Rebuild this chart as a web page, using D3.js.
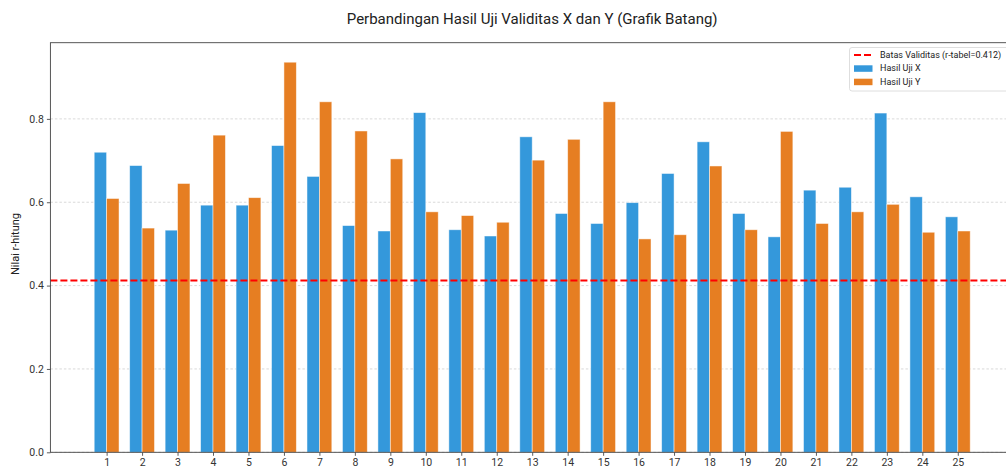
<!DOCTYPE html>
<html>
<head>
<meta charset="utf-8">
<script src="https://cdn.jsdelivr.net/npm/d3@7"></script>
<style>
  html, body { margin: 0; padding: 0; background: #fff; overflow: hidden; }
  svg { display: block; font-family: Roboto, "Open Sans", sans-serif; }
</style>
</head>
<body>
<svg id="chart" width="1006" height="468"></svg>
<script>
const categories = ["1","2","3","4","5","6","7","8","9","10","11","12","13","14","15","16","17","18","19","20","21","22","23","24","25"];
const hasilX = [0.720,0.688,0.533,0.593,0.593,0.736,0.662,0.544,0.531,0.815,0.534,0.519,0.757,0.573,0.549,0.599,0.669,0.745,0.573,0.517,0.629,0.636,0.814,0.613,0.565];
const hasilY = [0.609,0.538,0.645,0.761,0.611,0.936,0.841,0.771,0.704,0.577,0.568,0.552,0.701,0.751,0.841,0.512,0.522,0.687,0.534,0.770,0.549,0.577,0.595,0.528,0.531];
const rTabel = 0.412;
const yTicks = [0.0, 0.2, 0.4, 0.6, 0.8];
const titleText = "Perbandingan Hasil Uji Validitas X dan Y (Grafik Batang)";
const yLabel = "Nilai r-hitung";
const legendLabels = ["Batas Validitas (r-tabel=0.412)", "Hasil Uji X", "Hasil Uji Y"];

(function () {
const colX = "#3498db", colY = "#e67e22", colLine = "#ff0000";
const barW = 0.35;
const n = categories.length;
const svg = d3.select("#chart");

const pL = 50.4, pR = 1014, pT = 42.7, pB = 452.3;
const pad = (n - 1 + 2 * barW) * 0.05;
const x = d3.scaleLinear().domain([-barW - pad, n - 1 + barW + pad]).range([pL, pR]);
const yMax = d3.max(hasilX.concat(hasilY)) * 1.05;
const y = d3.scaleLinear().domain([0, yMax]).range([pB, pT]);

// grid
svg.append("g").selectAll("line").data(yTicks).join("line")
  .attr("x1", pL).attr("x2", pR)
  .attr("y1", d => y(d)).attr("y2", d => y(d))
  .attr("stroke", "#cfcfcf").attr("stroke-width", 0.8)
  .attr("stroke-dasharray", "2.5,2");

// bars
const gBars = svg.append("g");
gBars.selectAll("rect.x").data(hasilX).join("rect").attr("class", "x")
  .attr("x", (d, i) => x(i - barW)).attr("width", x(barW) - x(0))
  .attr("y", d => y(d)).attr("height", d => y(0) - y(d))
  .attr("fill", colX).attr("stroke", "#ffffff").attr("stroke-opacity", 0.6).attr("stroke-width", 0.8);
gBars.selectAll("rect.y").data(hasilY).join("rect").attr("class", "y")
  .attr("x", (d, i) => x(i)).attr("width", x(barW) - x(0))
  .attr("y", d => y(d)).attr("height", d => y(0) - y(d))
  .attr("fill", colY).attr("stroke", "#ffffff").attr("stroke-opacity", 0.6).attr("stroke-width", 0.8);

// threshold line
svg.append("line")
  .attr("x1", pL).attr("x2", pR)
  .attr("y1", y(rTabel)).attr("y2", y(rTabel))
  .attr("stroke", colLine).attr("stroke-width", 2)
  .attr("stroke-dasharray", "7,3");

// axes
const xAxis = d3.axisBottom(x).tickValues(d3.range(n)).tickFormat(i => categories[i]).tickSize(3.5).tickPadding(3);
const gx = svg.append("g").attr("transform", `translate(0,${pB})`).call(xAxis);
const yAxis = d3.axisLeft(y).tickValues(yTicks).tickFormat(d3.format(".1f")).tickSize(3.5).tickPadding(3);
const gy = svg.append("g").attr("transform", `translate(${pL},0)`).call(yAxis);
[gx, gy].forEach(g => {
  g.select(".domain").remove();
  g.selectAll(".tick line").attr("stroke", "#333").attr("stroke-width", 0.8);
  g.selectAll(".tick text").attr("fill", "#333").style("font-size", "10.5px").style("font-family", "Roboto, sans-serif");
});

// spines
svg.append("rect").attr("x", pL).attr("y", pT).attr("width", pR - pL).attr("height", pB - pT)
  .attr("fill", "none").attr("stroke", "#444").attr("stroke-width", 0.9);

// title
svg.append("text").attr("x", (pL + pR) / 2).attr("y", 23.5)
  .attr("text-anchor", "middle").style("font-size", "15px").attr("fill", "#222")
  .text(titleText);

// y label
svg.append("text").attr("transform", `translate(18.5,244) rotate(-90)`)
  .attr("text-anchor", "middle").style("font-size", "11px").attr("fill", "#222")
  .text(yLabel);

// legend
const lg = svg.append("g").attr("transform", "translate(849.5,47.5)");
lg.append("rect").attr("width", 200).attr("height", 43.5).attr("rx", 2.5)
  .attr("fill", "#fff").attr("fill-opacity", 0.85).attr("stroke", "#d5d5d5").attr("stroke-width", 0.8);
const rowsY = [7.5, 20.8, 34.2];
lg.append("line").attr("x1", 4.5).attr("x2", 23).attr("y1", rowsY[0]).attr("y2", rowsY[0])
  .attr("stroke", colLine).attr("stroke-width", 2).attr("stroke-dasharray", "7,3");
lg.append("rect").attr("x", 4.5).attr("y", rowsY[1] - 3).attr("width", 18.5).attr("height", 6.5).attr("fill", colX);
lg.append("rect").attr("x", 4.5).attr("y", rowsY[2] - 3).attr("width", 18.5).attr("height", 6.5).attr("fill", colY);
lg.selectAll("text").data(legendLabels).join("text")
  .attr("x", 30.5).attr("y", (d, i) => rowsY[i]).attr("dy", "0.35em")
  .style("font-size", "9px").attr("fill", "#222").text(d => d);
})();
</script>
</body>
</html>
